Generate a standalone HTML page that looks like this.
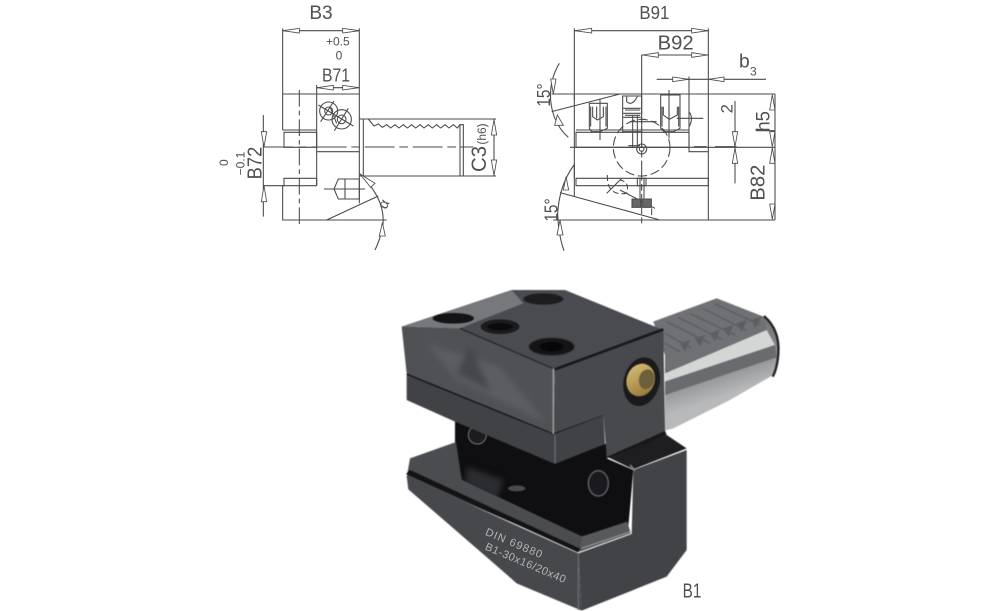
<!DOCTYPE html>
<html>
<head>
<meta charset="utf-8">
<style>
html,body{margin:0;padding:0;background:#fff;width:1000px;height:611px;overflow:hidden}
svg{display:block}
text{font-family:"Liberation Sans",sans-serif}
</style>
</head>
<body>
<svg width="1000" height="611" viewBox="0 0 1000 611" xmlns="http://www.w3.org/2000/svg">
<defs>
<filter id="b" x="-5%" y="-5%" width="110%" height="110%" color-interpolation-filters="sRGB"><feGaussianBlur stdDeviation="1.5"/></filter>
<filter id="s" x="-30%" y="-30%" width="160%" height="160%" color-interpolation-filters="sRGB"><feGaussianBlur stdDeviation="9"/></filter>
<filter id="d" x="-5%" y="-5%" width="110%" height="110%" color-interpolation-filters="sRGB"><feGaussianBlur stdDeviation="0.7"/></filter>
<linearGradient id="cyl" gradientUnits="userSpaceOnUse" x1="960" y1="130" x2="1030" y2="340">
<stop offset="0" stop-color="#707173"/><stop offset=".5" stop-color="#808183"/><stop offset=".75" stop-color="#9a9b9d"/><stop offset="1" stop-color="#b8b9ba"/>
</linearGradient>
<linearGradient id="brass" x1="0" y1="0" x2="1" y2="1">
<stop offset="0" stop-color="#d9c37e"/><stop offset=".5" stop-color="#b89a55"/><stop offset="1" stop-color="#8a7038"/>
</linearGradient>
</defs>

<!-- LEFT DRAWING -->
<g transform="translate(200,0) scale(.33333)" filter="url(#d)">
<g fill="none" stroke="#4a4a4a" stroke-width="3.2">
<path d="M248 85V390M478 85V610M248 92H478M350 255V555M350 263H478"/>
<path d="M248 282H478M252 397H350V442H252ZM248 390H350M252 557V535H350V557H248V660H560M350 455H478"/>
<path d="M380 660L535 588M478 520Q560 600 548 680Q540 720 525 750"/>
<path d="M190 441H350M350 441H820" stroke-dasharray="90 14 26 14"/>
<path d="M298 270V672" stroke-dasharray="50 12 14 12"/>
<path d="M478 357H888M490 528H888M478 528H490M490 357V528M780 372V528M790 372V528"/>
<path d="M505 357L522 378L535 372L547 382L560 374L572 384L585 374L597 384L610 374L622 384L635 374L647 384L660 374L672 384L685 374L697 384L710 374L722 384L735 374L747 384L760 374L772 384L780 374H790"/>
<path d="M882 357V528M190 345V650M190 557H252"/>
<circle cx="386" cy="333" r="27"/><circle cx="386" cy="333" r="12"/>
<circle cx="425" cy="358" r="29"/><circle cx="425" cy="358" r="13"/>
<path d="M355 315L460 378M362 365L402 303M403 392L445 325M390 320L410 370"/>
<path d="M415 537H478V597H415L402 567ZM435 537V597M415 567H478M372 567H495"/>
<g fill="#fff" stroke-width="2.5">
<path d="M248 92L298 85V99ZM478 92L428 85V99ZM352 263L400 256V270ZM476 263L428 256V270Z"/>
<path d="M882 359L874 405H890ZM882 526L874 480H890ZM192 441L184 395H200ZM192 557L184 605H200Z"/>
<path d="M480 522L525 550L512 562ZM547 668L538 708H556Z"/>
</g>
</g>
<g fill="#505050">
<text x="328" y="57" font-size="58" textLength="70" lengthAdjust="spacingAndGlyphs">B3</text>
<text x="378" y="137" font-size="36">+0.5</text>
<text x="407" y="178" font-size="36">0</text>
<text x="366" y="245" font-size="56" textLength="84" lengthAdjust="spacingAndGlyphs">B71</text>
<text transform="translate(858,516) rotate(-90)" font-size="64" textLength="78" lengthAdjust="spacingAndGlyphs">C3</text>
<text transform="translate(858,434) rotate(-90)" font-size="36">(h6)</text>
<text transform="translate(185,538) rotate(-90)" font-size="62" textLength="98" lengthAdjust="spacingAndGlyphs">B72</text>
<text transform="translate(133,526) rotate(-90)" font-size="36">−0.1</text>
<text transform="translate(84,498) rotate(-90)" font-size="36">0</text>
<text transform="translate(558,630) rotate(-63)" font-size="44">α</text>
</g>
</g>

<!-- RIGHT DRAWING -->
<g transform="translate(520,0) scale(.33333)" filter="url(#d)">
<g fill="none" stroke="#4a4a4a" stroke-width="3.2">
<path d="M163 85V300M565 85V660M163 92H565M365 165H565M365 165V282M410 238H738M507 230V455H565"/>
<path d="M95 282H765M150 442H765M100 660H765M163 282V442M163 490V590"/>
<path d="M168 397H507V442H168ZM168 390H507M168 535H565V557H168ZM163 442V535"/>
<path d="M95 335L300 282M120 578L420 660"/>
<path d="M118 190Q88 240 92 300Q98 370 145 412M162 495Q118 555 113 640Q115 705 132 752"/>
<circle cx="365" cy="443" r="85" stroke-dasharray="28 11"/>
<circle cx="365" cy="447" r="15"/><circle cx="365" cy="447" r="7"/>
<path d="M365 282V670" stroke-dasharray="60 10 20 10"/>
<path d="M300 570L405 625M260 580L305 535M240 297V420M447 270V415M330 365H410M338 345V440M352 345V440M325 437H360"/>
<path d="M308 288H365V395H308ZM310 325H362M310 340H362M310 352H362M320 290V305Q336 320 352 290M315 330H360M315 346H360"/>
<path d="M208 310H262V385L240 395H215L208 385ZM218 320V350L232 360L250 350V320M230 320V355M212 320V380M258 320V380"/>
<path d="M422 285H480V385L460 395H432L422 385ZM430 320V345L448 358L472 345V320M447 320V355M426 320V380M476 320V380"/>
<path d="M507 335Q522 355 507 380M470 355H550"/>
<path d="M262 525Q260 590 320 580Q330 545 300 540" stroke-dasharray="18 9"/>
<path d="M352 535H378V557H352ZM360 535V595M372 535V595M395 625V645"/>
<path d="M336 597H362V622H336ZM368 597H394V622H368Z" fill="#666"/>
<path d="M645 303V550M765 282V660M522 440H560M585 440H650M708 392H765"/>
<g fill="#fff" stroke-width="2.5">
<path d="M165 92L215 85V99ZM563 92L515 85V99ZM367 165L415 158V172ZM563 165L515 158V172Z"/>
<path d="M505 238L458 231V245ZM567 238L612 231V245Z"/>
<path d="M645 440L637 395H653ZM645 444L637 490H653Z"/>
<path d="M757 284L749 330H765ZM757 440L749 395H765ZM757 444L749 490H765ZM757 658L749 612H765Z"/>
<path d="M100 282L92 237H108ZM112 345L104 376H130ZM138 530L130 570H146ZM120 660L111 705H129Z"/>
</g>
</g>
<g fill="#505050">
<text x="358" y="57" font-size="56" textLength="90" lengthAdjust="spacingAndGlyphs">B91</text>
<text x="413" y="148" font-size="60" textLength="108" lengthAdjust="spacingAndGlyphs">B92</text>
<text x="657" y="203" font-size="58" textLength="32" lengthAdjust="spacingAndGlyphs">b</text>
<text x="690" y="226" font-size="36">3</text>
<text transform="translate(637,340) rotate(-90)" font-size="50" textLength="28" lengthAdjust="spacingAndGlyphs">2</text>
<text transform="translate(748,395) rotate(-90)" font-size="58" textLength="62" lengthAdjust="spacingAndGlyphs">h5</text>
<text transform="translate(733,602) rotate(-90)" font-size="62" textLength="108" lengthAdjust="spacingAndGlyphs">B82</text>
<text transform="translate(90,320) rotate(-90)" font-size="56" textLength="70" lengthAdjust="spacingAndGlyphs">15°</text>
<text transform="translate(112,665) rotate(-90)" font-size="56" textLength="70" lengthAdjust="spacingAndGlyphs">15°</text>
</g>
</g>

<!-- PHOTO -->
<g transform="translate(390,280) scale(.33333)">
<g filter="url(#b)">
<!-- shank -->
<path d="M790 125L980 55L1120 110L1150 140L1165 200L1158 280L1020 360L850 445L825 452V200Z" fill="url(#cyl)"/>
<path d="M790 125L980 55L1120 110L1130 150L825 280L825 225Z" fill="#707174"/>
<g fill="#5c5d60">
<path d="M1085 120L1115 110L1095 145Z"/><path d="M1040 130L1070 120L1055 155Z"/><path d="M1000 145L1030 135L1015 170Z"/><path d="M960 160L990 150L975 185Z"/><path d="M915 175L945 165L930 200Z"/><path d="M870 190L900 180L885 215Z"/>
</g>
<g stroke="#5f6063" stroke-width="5" fill="none">
<path d="M830 125L960 190M865 112L995 178M900 100L1035 165M940 86L1070 152M975 72L1110 135M825 160L905 205M825 190L870 215"/>
</g>
<path d="M1122 108Q1170 150 1165 220Q1162 265 1148 290" fill="none" stroke="#202022" stroke-width="7"/>
<path d="M825 280L1130 150L1155 195L825 305Z" fill="#d4d5d5"/>
<path d="M825 305L1155 195L1160 232L825 345Z" fill="#6a6b6e"/>
<!-- web -->
<path d="M195 420L490 545L650 490L650 535L730 570L715 740L575 770L215 600L195 500Z" fill="#0f0f11"/>
<path d="M230 560L340 600L320 660L225 610Z" fill="#2c2d30" filter="url(#s)"/>
<ellipse cx="262" cy="465" rx="27" ry="27" fill="#1c1c1e" stroke="#77787a" stroke-width="3"/>
<ellipse cx="625" cy="610" rx="30" ry="38" fill="#1a1a1e" stroke="#66676b" stroke-width="4"/>
<ellipse cx="380" cy="625" rx="26" ry="9" fill="#4a4a4c"/>
<!-- ledge -->
<path d="M60 535L198 486L215 600L575 770L712 725L722 760L570 815L50 592Z" fill="#4b4c4f"/>
<path d="M48 582L565 818L570 806L60 570Z" fill="#131315"/>
<path d="M575 770L712 725L720 760L570 812Z" fill="#58595c"/>
<path d="M575 805L722 755" stroke="#a8a9ab" stroke-width="3" fill="none"/>
<!-- base faces -->
<path d="M50 588L565 820L575 992L380 910L300 840L55 628Z" fill="#47484b"/>
<path d="M565 820L725 762L730 570L890 510V810L830 890L575 992Z" fill="#424347"/>
<path d="M650 530L830 465L890 505L730 568Z" fill="#1e1e21"/>
<path d="M565 820V990" stroke="#77787b" stroke-width="3" fill="none"/>
<path d="M720 555L735 572" stroke="#8a8b8d" stroke-width="5" fill="none"/>
<!-- upper plate -->
<path d="M50 285L490 462L640 405L645 492L495 552L195 425L50 360Z" fill="#414246"/>
<path d="M50 282L490 460L640 403" fill="none" stroke="#111113" stroke-width="6"/>
<path d="M495 465V550" stroke="#77787b" stroke-width="3" fill="none"/>
<!-- top face -->
<path d="M35 140L365 30L525 30L820 150L495 270L210 145Z" fill="#4a4b50"/>
<path d="M35 140L365 30L400 70L210 145Z" fill="#77787c"/>
<!-- front face -->
<path d="M35 140L210 145L495 270L490 460L50 280Z" fill="#505155"/>
<path d="M110 190L330 260L470 430L200 300Z" fill="#66676b" opacity=".55" filter="url(#s)"/>
<path d="M240 200L300 330L200 280Z" fill="#38393c" opacity=".6" filter="url(#s)"/>
<!-- right face -->
<path d="M495 270L820 150L825 452L650 530L640 405L490 460Z" fill="#48494d"/>
<path d="M495 268L820 148" stroke="#18181a" stroke-width="8" fill="none"/>
<path d="M210 145L495 268" stroke="#28282b" stroke-width="4" fill="none"/>
<path d="M490 265V462" stroke="#98999b" stroke-width="5" fill="none"/>
<path d="M650 530L825 452L830 465L650 535Z" fill="#18181a"/>
<!-- screws -->
<ellipse cx="190" cy="115" rx="62" ry="16" fill="#141416"/>
<ellipse cx="330" cy="140" rx="58" ry="22" fill="#1b1b1e"/>
<ellipse cx="330" cy="140" rx="38" ry="11" fill="#0a0a0b"/>
<ellipse cx="485" cy="200" rx="68" ry="26" fill="#141416" stroke="#2e2e31" stroke-width="3"/>
<ellipse cx="485" cy="200" rx="36" ry="14" fill="#060607"/>
<ellipse cx="460" cy="57" rx="60" ry="17" fill="#1d1d1f"/>
<!-- brass nut -->
<ellipse cx="755" cy="305" rx="54" ry="74" transform="rotate(14 755 305)" fill="#1a1a1c"/>
<ellipse cx="752" cy="300" rx="42" ry="50" transform="rotate(20 752 300)" fill="url(#brass)"/>
<ellipse cx="770" cy="298" rx="23" ry="30" transform="rotate(14 770 298)" fill="#6e5f3c"/>
</g>
<g fill="#b4b5b7">
<text transform="translate(284,764) rotate(23)" font-size="33" letter-spacing="3">DIN  69880</text>
<text transform="translate(283,808) rotate(23)" font-size="33" letter-spacing="1.5">B1-30x16/20x40</text>
</g>
<text x="878" y="953" font-size="62" fill="#505050" textLength="56" lengthAdjust="spacingAndGlyphs">B1</text>
</g>
</svg>
</body>
</html>
